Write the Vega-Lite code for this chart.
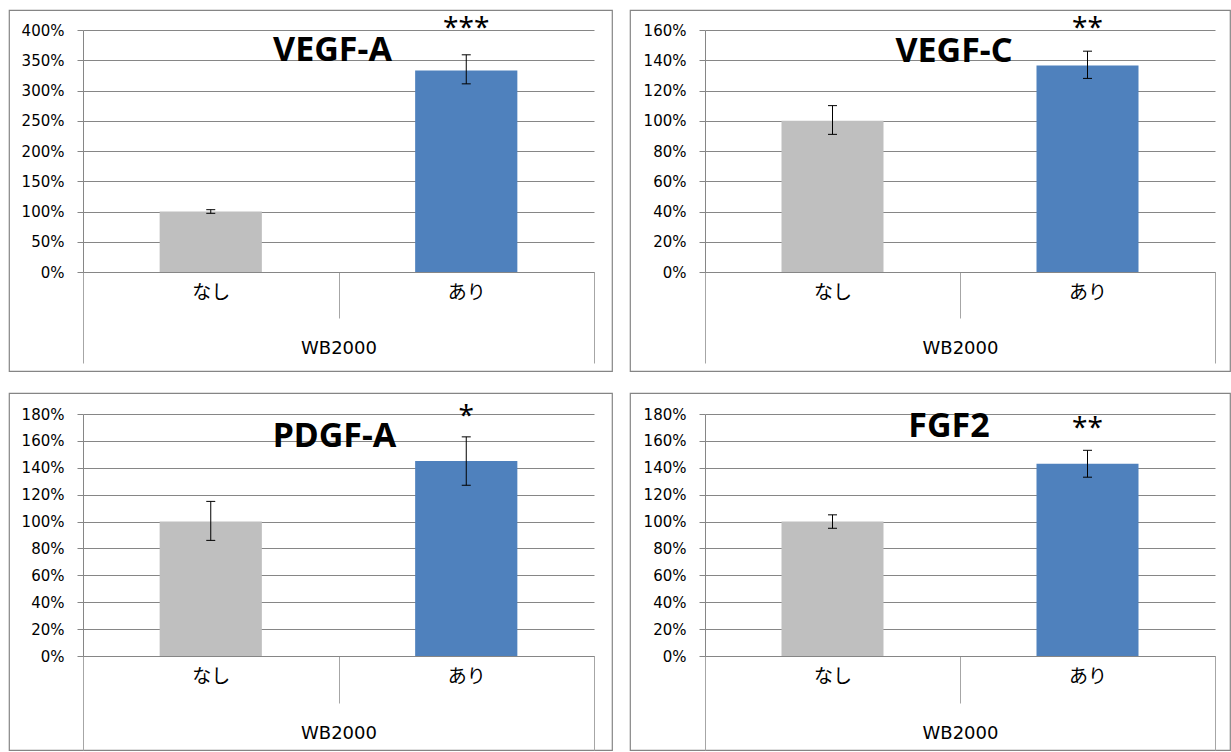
{
  "$schema": "https://vega.github.io/schema/vega-lite/v6.json",
  "padding": {"left": 8, "top": 9, "right": 0, "bottom": 0},
  "bounds": "flush",
  "columns": 2,
  "spacing": {"row": 22, "column": 18},
  "config": {
    "view": {"stroke": "#858585", "strokeWidth": 1.2},
    "background": "#ffffff"
  },
  "concat": [
    {
      "width": 603, "height": 361,
      "title": {"text": "VEGF-A", "font": "Noto Sans", "fontSize": 34, "fontWeight": "bold", "color": "#000000", "anchor": "middle", "frame": "group", "baseline": "alphabetic", "offset": -85, "dx": 22},
      "data": {"values": [
        {"group": "なし", "value": 100, "lo": 97, "hi": 103, "sig": ""},
        {"group": "あり", "value": 333, "lo": 311, "hi": 359, "sig": "***"}
      ]},
      "encoding": {
        "x": {"field": "group", "type": "nominal", "sort": ["なし", "あり"],
          "scale": {"range": [74, 585], "paddingInner": 0, "paddingOuter": 0},
          "axis": {"title": "WB2000", "offset": -99, "tickBand": "extent",
            "tickSize": {"condition": {"test": "datum.value === 'なし' && !datum.extra", "value": 46}, "value": 91},
            "labelPadding": {"condition": {"test": "datum.value === 'なし' && !datum.extra", "value": -26}, "value": -71},
            "tickColor": "#a6a6a6", "domainColor": "#868686", "labelAngle": 0,
            "labelFont": "Noto Sans CJK JP", "labelFontSize": 19, "labelColor": "#000000",
            "labelBaseline": "middle",
            "titleFont": "DejaVu Sans", "titleFontSize": 18, "titleFontWeight": "normal", "titleColor": "#000000",
            "titleY": 76, "titleBaseline": "middle", "grid": false}}
      },
      "layer": [
        {"mark": {"type": "bar", "opacity": 1, "width": {"band": 0.4}},
          "encoding": {
            "y": {"field": "value", "type": "quantitative", "title": null,
              "scale": {"domain": [0, 400], "range": [262, 20], "nice": false},
              "axis": {"offset": -74, "values": [0, 50, 100, 150, 200, 250, 300, 350, 400], "tickCount": 30, "labelOverlap": false,
                "labelExpr": "datum.value + '%'", "grid": true, "gridColor": "#868686",
                "domainColor": "#868686", "tickColor": "#868686", "tickSize": 6, "labelPadding": 13,
                "labelFont": "DejaVu Sans", "labelFontSize": 15, "labelColor": "#000000"}},
            "color": {"field": "group", "type": "nominal", "legend": null,
              "scale": {"domain": ["なし", "あり"], "range": ["#BFBFBF", "#4F81BD"]}}
          }},
        {"mark": {"type": "rule", "color": "#000000", "strokeWidth": 1},
          "encoding": {"y": {"field": "lo", "type": "quantitative", "title": null}, "y2": {"field": "hi"}}},
        {"mark": {"type": "tick", "color": "#000000", "size": 9, "thickness": 1, "opacity": 1, "orient": "horizontal"},
          "encoding": {"y": {"field": "lo", "type": "quantitative", "title": null}}},
        {"mark": {"type": "tick", "color": "#000000", "size": 9, "thickness": 1, "opacity": 1, "orient": "horizontal"},
          "encoding": {"y": {"field": "hi", "type": "quantitative", "title": null}}},
        {"mark": {"type": "text", "font": "Noto Sans", "fontSize": 28, "baseline": "alphabetic", "dy": -18, "color": "#000000"},
          "encoding": {"y": {"field": "hi", "type": "quantitative", "title": null}, "text": {"field": "sig"}}}
      ]
    },
    {
      "width": 600, "height": 361,
      "title": {"text": "VEGF-C", "font": "Noto Sans", "fontSize": 34, "fontWeight": "bold", "color": "#000000", "anchor": "middle", "frame": "group", "baseline": "alphabetic", "offset": -86, "dx": 24},
      "data": {"values": [
        {"group": "なし", "value": 100, "lo": 91, "hi": 110, "sig": ""},
        {"group": "あり", "value": 136.5, "lo": 128, "hi": 146, "sig": "**"}
      ]},
      "encoding": {
        "x": {"field": "group", "type": "nominal", "sort": ["なし", "あり"],
          "scale": {"range": [75, 585], "paddingInner": 0, "paddingOuter": 0},
          "axis": {"title": "WB2000", "offset": -99, "tickBand": "extent",
            "tickSize": {"condition": {"test": "datum.value === 'なし' && !datum.extra", "value": 46}, "value": 91},
            "labelPadding": {"condition": {"test": "datum.value === 'なし' && !datum.extra", "value": -26}, "value": -71},
            "tickColor": "#a6a6a6", "domainColor": "#868686", "labelAngle": 0,
            "labelFont": "Noto Sans CJK JP", "labelFontSize": 19, "labelColor": "#000000",
            "labelBaseline": "middle",
            "titleFont": "DejaVu Sans", "titleFontSize": 18, "titleFontWeight": "normal", "titleColor": "#000000",
            "titleY": 76, "titleBaseline": "middle", "grid": false}}
      },
      "layer": [
        {"mark": {"type": "bar", "opacity": 1, "width": {"band": 0.4}},
          "encoding": {
            "y": {"field": "value", "type": "quantitative", "title": null,
              "scale": {"domain": [0, 160], "range": [262, 20], "nice": false},
              "axis": {"offset": -75, "values": [0, 20, 40, 60, 80, 100, 120, 140, 160], "tickCount": 30, "labelOverlap": false,
                "labelExpr": "datum.value + '%'", "grid": true, "gridColor": "#868686",
                "domainColor": "#868686", "tickColor": "#868686", "tickSize": 6, "labelPadding": 13,
                "labelFont": "DejaVu Sans", "labelFontSize": 15, "labelColor": "#000000"}},
            "color": {"field": "group", "type": "nominal", "legend": null,
              "scale": {"domain": ["なし", "あり"], "range": ["#BFBFBF", "#4F81BD"]}}
          }},
        {"mark": {"type": "rule", "color": "#000000", "strokeWidth": 1},
          "encoding": {"y": {"field": "lo", "type": "quantitative", "title": null}, "y2": {"field": "hi"}}},
        {"mark": {"type": "tick", "color": "#000000", "size": 9, "thickness": 1, "opacity": 1, "orient": "horizontal"},
          "encoding": {"y": {"field": "lo", "type": "quantitative", "title": null}}},
        {"mark": {"type": "tick", "color": "#000000", "size": 9, "thickness": 1, "opacity": 1, "orient": "horizontal"},
          "encoding": {"y": {"field": "hi", "type": "quantitative", "title": null}}},
        {"mark": {"type": "text", "font": "Noto Sans", "fontSize": 28, "baseline": "alphabetic", "dy": -14, "color": "#000000"},
          "encoding": {"y": {"field": "hi", "type": "quantitative", "title": null}, "text": {"field": "sig"}}}
      ]
    },
    {
      "width": 603, "height": 357,
      "title": {"text": "PDGF-A", "font": "Noto Sans", "fontSize": 34, "fontWeight": "bold", "color": "#000000", "anchor": "middle", "frame": "group", "baseline": "alphabetic", "offset": -88, "dx": 24},
      "data": {"values": [
        {"group": "なし", "value": 100, "lo": 86, "hi": 115, "sig": ""},
        {"group": "あり", "value": 145, "lo": 127, "hi": 163, "sig": "*"}
      ]},
      "encoding": {
        "x": {"field": "group", "type": "nominal", "sort": ["なし", "あり"],
          "scale": {"range": [74, 585], "paddingInner": 0, "paddingOuter": 0},
          "axis": {"title": "WB2000", "offset": -94, "tickBand": "extent",
            "tickSize": {"condition": {"test": "datum.value === 'なし' && !datum.extra", "value": 47}, "value": 94},
            "labelPadding": {"condition": {"test": "datum.value === 'なし' && !datum.extra", "value": -27}, "value": -74},
            "tickColor": "#a6a6a6", "domainColor": "#868686", "labelAngle": 0,
            "labelFont": "Noto Sans CJK JP", "labelFontSize": 19, "labelColor": "#000000",
            "labelBaseline": "middle",
            "titleFont": "DejaVu Sans", "titleFontSize": 18, "titleFontWeight": "normal", "titleColor": "#000000",
            "titleY": 77, "titleBaseline": "middle", "grid": false}}
      },
      "layer": [
        {"mark": {"type": "bar", "opacity": 1, "width": {"band": 0.4}},
          "encoding": {
            "y": {"field": "value", "type": "quantitative", "title": null,
              "scale": {"domain": [0, 180], "range": [263, 21], "nice": false},
              "axis": {"offset": -74, "values": [0, 20, 40, 60, 80, 100, 120, 140, 160, 180], "tickCount": 30, "labelOverlap": false,
                "labelExpr": "datum.value + '%'", "grid": true, "gridColor": "#868686",
                "domainColor": "#868686", "tickColor": "#868686", "tickSize": 6, "labelPadding": 13,
                "labelFont": "DejaVu Sans", "labelFontSize": 15, "labelColor": "#000000"}},
            "color": {"field": "group", "type": "nominal", "legend": null,
              "scale": {"domain": ["なし", "あり"], "range": ["#BFBFBF", "#4F81BD"]}}
          }},
        {"mark": {"type": "rule", "color": "#000000", "strokeWidth": 1},
          "encoding": {"y": {"field": "lo", "type": "quantitative", "title": null}, "y2": {"field": "hi"}}},
        {"mark": {"type": "tick", "color": "#000000", "size": 9, "thickness": 1, "opacity": 1, "orient": "horizontal"},
          "encoding": {"y": {"field": "lo", "type": "quantitative", "title": null}}},
        {"mark": {"type": "tick", "color": "#000000", "size": 9, "thickness": 1, "opacity": 1, "orient": "horizontal"},
          "encoding": {"y": {"field": "hi", "type": "quantitative", "title": null}}},
        {"mark": {"type": "text", "font": "Noto Sans", "fontSize": 28, "baseline": "alphabetic", "dy": -12, "color": "#000000"},
          "encoding": {"y": {"field": "hi", "type": "quantitative", "title": null}, "text": {"field": "sig"}}}
      ]
    },
    {
      "width": 600, "height": 357,
      "title": {"text": "FGF2", "font": "Noto Sans", "fontSize": 34, "fontWeight": "bold", "color": "#000000", "anchor": "middle", "frame": "group", "baseline": "alphabetic", "offset": -78, "dx": 19},
      "data": {"values": [
        {"group": "なし", "value": 100, "lo": 95, "hi": 105, "sig": ""},
        {"group": "あり", "value": 143, "lo": 133, "hi": 153, "sig": "**"}
      ]},
      "encoding": {
        "x": {"field": "group", "type": "nominal", "sort": ["なし", "あり"],
          "scale": {"range": [75, 585], "paddingInner": 0, "paddingOuter": 0},
          "axis": {"title": "WB2000", "offset": -94, "tickBand": "extent",
            "tickSize": {"condition": {"test": "datum.value === 'なし' && !datum.extra", "value": 47}, "value": 94},
            "labelPadding": {"condition": {"test": "datum.value === 'なし' && !datum.extra", "value": -27}, "value": -74},
            "tickColor": "#a6a6a6", "domainColor": "#868686", "labelAngle": 0,
            "labelFont": "Noto Sans CJK JP", "labelFontSize": 19, "labelColor": "#000000",
            "labelBaseline": "middle",
            "titleFont": "DejaVu Sans", "titleFontSize": 18, "titleFontWeight": "normal", "titleColor": "#000000",
            "titleY": 77, "titleBaseline": "middle", "grid": false}}
      },
      "layer": [
        {"mark": {"type": "bar", "opacity": 1, "width": {"band": 0.4}},
          "encoding": {
            "y": {"field": "value", "type": "quantitative", "title": null,
              "scale": {"domain": [0, 180], "range": [263, 21], "nice": false},
              "axis": {"offset": -75, "values": [0, 20, 40, 60, 80, 100, 120, 140, 160, 180], "tickCount": 30, "labelOverlap": false,
                "labelExpr": "datum.value + '%'", "grid": true, "gridColor": "#868686",
                "domainColor": "#868686", "tickColor": "#868686", "tickSize": 6, "labelPadding": 13,
                "labelFont": "DejaVu Sans", "labelFontSize": 15, "labelColor": "#000000"}},
            "color": {"field": "group", "type": "nominal", "legend": null,
              "scale": {"domain": ["なし", "あり"], "range": ["#BFBFBF", "#4F81BD"]}}
          }},
        {"mark": {"type": "rule", "color": "#000000", "strokeWidth": 1},
          "encoding": {"y": {"field": "lo", "type": "quantitative", "title": null}, "y2": {"field": "hi"}}},
        {"mark": {"type": "tick", "color": "#000000", "size": 9, "thickness": 1, "opacity": 1, "orient": "horizontal"},
          "encoding": {"y": {"field": "lo", "type": "quantitative", "title": null}}},
        {"mark": {"type": "tick", "color": "#000000", "size": 9, "thickness": 1, "opacity": 1, "orient": "horizontal"},
          "encoding": {"y": {"field": "hi", "type": "quantitative", "title": null}}},
        {"mark": {"type": "text", "font": "Noto Sans", "fontSize": 28, "baseline": "alphabetic", "dy": -13, "color": "#000000"},
          "encoding": {"y": {"field": "hi", "type": "quantitative", "title": null}, "text": {"field": "sig"}}}
      ]
    }
  ]
}
